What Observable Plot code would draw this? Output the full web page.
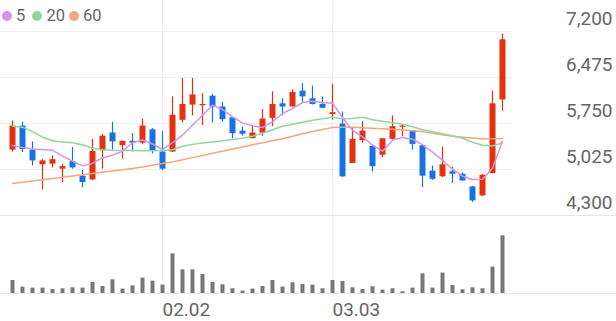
<!DOCTYPE html>
<html><head><meta charset="utf-8">
<script src="https://cdn.jsdelivr.net/npm/d3@7"></script>
<script src="https://cdn.jsdelivr.net/npm/@observablehq/plot@0.6"></script>
<style>
body{margin:0;background:#fff;font-family:Roboto,sans-serif}
#wrap{position:relative;width:616px;height:321px;overflow:hidden;background:#fff}
#price,#vol{position:absolute;left:0}
#price{top:0}
#vol{top:216px}
svg{display:block}
.sep{position:absolute;left:0;width:616px;height:1px;background:#e6e6e6}
.lg{position:absolute;top:6px;font-size:16.5px;color:#666;line-height:20px;white-space:nowrap}
.dot{position:absolute;width:10px;height:10px;border-radius:50%;top:11px}
</style></head><body>
<div id="wrap">
  <div id="price"></div>
  <div id="vol"></div>
  <div class="sep" style="top:215px"></div>
  <div class="sep" style="top:293px"></div>
  <div id="legend"></div>
</div>
<script>
const dates = ["01.12","01.13","01.14","01.15","01.16","01.19","01.20","01.21","01.22","01.23",
  "01.26","01.27","01.28","01.29","01.30","02.02","02.03","02.04","02.05","02.06",
  "02.09","02.10","02.11","02.12","02.13","02.19","02.20","02.23","02.24","02.25",
  "02.26","02.27","03.03","03.04","03.05","03.06","03.09","03.10","03.11","03.12",
  "03.13","03.16","03.17","03.18","03.19","03.20","03.23","03.24","03.25","03.26"];
const open  = [5330,5710,5330,5100,5110,5030,5150,4920,4860,5320,5600,5400,5470,5440,5650,5300,5300,5800,6040,6030,6180,6010,5840,5630,5510,5600,5830,6060,6010,6260,6140,6050,5890,5740,5120,5480,5390,5250,5500,5690,5640,5400,5000,4910,4990,4950,4750,4610,4960,6120];
const close = [5710,5340,5160,5160,5180,5070,5050,4820,5310,5550,5460,5470,5440,5710,5320,5030,5880,6050,6200,6050,6010,5810,5590,5580,5600,5820,6050,6010,6240,6170,6050,5990,5920,4910,5500,5630,5070,5510,5700,5710,5420,4920,4870,5100,4950,4845,4530,4935,6060,7070];
const high  = [5790,5770,5460,5180,5240,5100,5370,5010,5500,5580,5770,5470,5590,5820,5670,5620,6170,6460,6460,6220,6210,6080,5840,5690,5720,5970,6250,6140,6280,6380,6340,6170,6370,5930,5670,5780,5390,5510,5870,5720,5640,5410,5080,5380,5060,4970,4760,4945,6260,7160];
const low   = [5300,5290,5080,4700,5050,4820,5030,4735,4850,5030,5330,5190,5300,5420,5270,5010,5290,5760,5870,5720,5760,5770,5510,5550,5510,5550,5700,5870,6010,6065,6040,5985,5800,4900,5120,5440,4985,5210,5490,5540,5330,4740,4855,4900,4805,4840,4505,4600,4960,5945];
const volume = [266,134,114,114,86,100,120,114,226,146,280,94,160,314,254,174,800,480,480,386,226,180,100,54,94,146,266,134,220,186,174,100,266,246,120,86,140,74,100,40,114,400,114,414,166,80,120,100,534,1160];
const ma5  = [5405,5372,5350,5340,5329,5235,5156,5082,5120,5211,5250,5313,5447,5491,5428,5340,5447,5566,5723,5880,6038,5971,5854,5759,5715,5687,5775,5908,5986,6081,6101,6081,6070,5841,5644,5539,5408,5313,5487,5531,5502,5416,5298,5172,5030,4919,4867,4872,5045,5474];
const ma20 = [5707,5692,5621,5534,5479,5460,5447,5416,5361,5337,5329,5326,5324,5321,5321,5324,5337,5392,5421,5444,5460,5479,5499,5518,5550,5597,5652,5707,5739,5770,5802,5826,5849,5826,5829,5849,5810,5786,5763,5739,5699,5652,5621,5589,5558,5518,5455,5408,5395,5447];
const ma60 = [4804,4824,4843,4863,4883,4902,4922,4942,4961,4981,5001,5020,5040,5066,5092,5118,5145,5178,5212,5246,5280,5314,5347,5381,5415,5447,5478,5510,5548,5587,5625,5656,5687,5690,5690,5683,5675,5667,5658,5646,5634,5622,5598,5574,5550,5535,5520,5505,5508,5515];
const yTicks = [4300,5025,5750,6475,7200];
const xTicks = ["02.02","03.03"];
const maNames = ["5","20","60"];
const maColors = ["#d493ef","#8fd6a0","#f8a47e"];
const UP = "#e6310f", DOWN = "#1673e6", VOLC = "#777777", GRID = "#efefef";

const rows = dates.map((d,i)=>({date:d, open:open[i], close:close[i], high:high[i], low:low[i],
  vol:volume[i], ma5:ma5[i], ma20:ma20[i], ma60:ma60[i]}));
const col = d => d.close >= d.open ? UP : DOWN;

const price = Plot.plot({
  width:616, height:216, marginLeft:0, marginRight:103, marginTop:0, marginBottom:0,
  style:{fontFamily:"Roboto", fontSize:"19px", color:"#666", background:"transparent"},
  x:{type:"point", domain:dates, padding:0.5, axis:null},
  y:{domain:[4300,7200], range:[215,31], axis:null},
  marks:[
    Plot.gridX(xTicks, {stroke:GRID, strokeOpacity:1}),
    Plot.gridY(yTicks, {stroke:GRID, strokeOpacity:1}),
    Plot.ruleX(rows, {x:"date", y1:"low", y2:"high", stroke:col, strokeWidth:1.2}),
    Plot.ruleX(rows, {x:"date", y1:"open", y2:"close", stroke:col, strokeWidth:6}),
    Plot.line(rows, {x:"date", y:"ma60", stroke:maColors[2], strokeWidth:1.5}),
    Plot.line(rows, {x:"date", y:"ma20", stroke:maColors[1], strokeWidth:1.5}),
    Plot.line(rows, {x:"date", y:"ma5", stroke:maColors[0], strokeWidth:1.5}),
    Plot.axisY(yTicks, {anchor:"right", label:null, tickSize:0, tickPadding:0, textAnchor:"end", dx:99, dy:-13, tickFormat:d3.format(",")})
  ]
});
document.getElementById("price").appendChild(price);

const vol = Plot.plot({
  width:616, height:105, marginLeft:0, marginRight:103, marginTop:0, marginBottom:28,
  style:{fontFamily:"Roboto", fontSize:"19px", color:"#666", background:"transparent"},
  x:{type:"point", domain:dates, padding:0.5, axis:null},
  y:{domain:[0,1160], range:[77.3,19.3], axis:null},
  marks:[
    Plot.gridX(xTicks, {stroke:GRID, strokeOpacity:1}),
    Plot.ruleX(rows, {x:"date", y1:0, y2:"vol", stroke:VOLC, strokeWidth:4}),
    Plot.axisX(xTicks, {anchor:"bottom", label:null, tickSize:0, tickPadding:9, textAnchor:"start"})
  ]
});
document.getElementById("vol").appendChild(vol);

// legend
const lg = document.getElementById("legend");
const dotX = [1.7, 32.3, 68.5];
const txtX = [16, 46.5, 83];
maNames.forEach((n,i)=>{
  const d = document.createElement("div");
  d.className = "dot"; d.style.left = dotX[i]+"px"; d.style.background = maColors[i];
  lg.appendChild(d);
  const t = document.createElement("div");
  t.className = "lg"; t.style.left = txtX[i]+"px"; t.textContent = n;
  lg.appendChild(t);
});
</script>
</body></html>
